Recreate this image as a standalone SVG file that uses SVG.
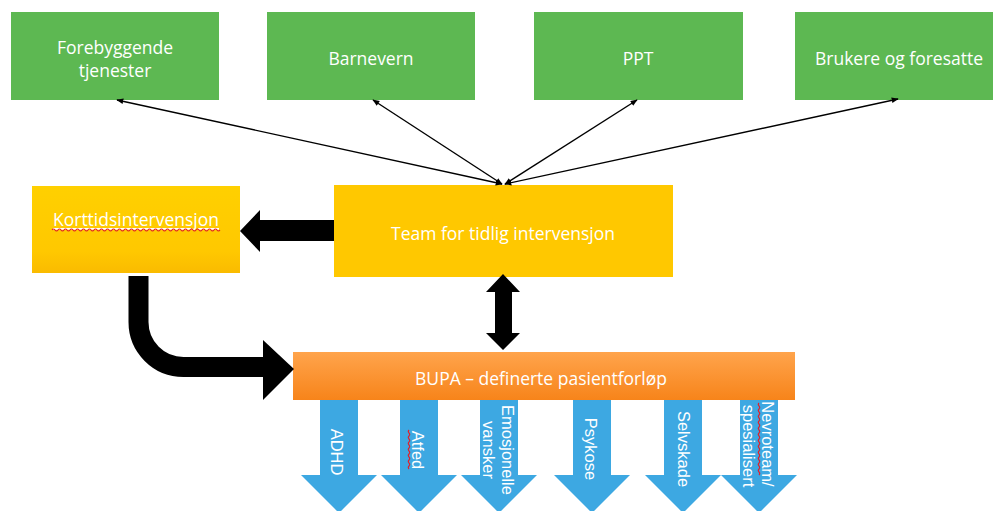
<svg xmlns="http://www.w3.org/2000/svg" width="995" height="511" viewBox="0 0 995 511">
<style>
.g{fill:#5DB852}
.lbl{font-family:"Open Sans","Liberation Sans",sans-serif;fill:#FFFFFF;text-anchor:middle;dominant-baseline:central}
.gl{font-size:17.5px}
.vt{font-family:"Liberation Sans",Arial,sans-serif;font-size:16.5px;fill:#FFFFFF;text-anchor:middle;dominant-baseline:central}
.thin{stroke:#000;stroke-width:1.4;fill:none;marker-start:url(#ah);marker-end:url(#ah)}
.blue{fill:#3DA8E2}
.wavy{fill:none;stroke:#E0202A;stroke-width:1.1}
</style>
<defs>
<marker id="ah" viewBox="0 0 10 10" refX="9" refY="5" markerWidth="7" markerHeight="7" orient="auto-start-reverse" markerUnits="userSpaceOnUse">
<path d="M0,1 L10,5 L0,9 z" fill="#000"/>
</marker>
<linearGradient id="ygrad" x1="0" y1="0" x2="0" y2="1">
<stop offset="0" stop-color="#FFD000"/>
<stop offset="0.75" stop-color="#FFC800"/>
<stop offset="1" stop-color="#FABB00"/>
</linearGradient>
<linearGradient id="ograd" x1="0" y1="0" x2="0" y2="1">
<stop offset="0" stop-color="#FFA44C"/>
<stop offset="1" stop-color="#F7841A"/>
</linearGradient>
</defs>
<rect width="995" height="511" fill="#FFFFFF"/>

<g id="forebyggende">
<rect class="g" x="11" y="12" width="208" height="88"/>
<text class="lbl gl" x="115" y="47">Forebyggende</text>
<text class="lbl gl" x="115" y="70">tjenester</text>
</g>
<g id="barnevern">
<rect class="g" x="267" y="12" width="208" height="88"/>
<text class="lbl gl" x="371" y="58">Barnevern</text>
</g>
<g id="ppt">
<rect class="g" x="534" y="12" width="209" height="88"/>
<text class="lbl gl" x="638" y="58">PPT</text>
</g>
<g id="brukere">
<rect class="g" x="795" y="12" width="198" height="88"/>
<text class="lbl gl" x="899" y="58">Brukere og foresatte</text>
</g>

<g id="korttids">
<rect x="32" y="186" width="208" height="87" fill="url(#ygrad)"/>
<text class="lbl gl" x="136" y="219" text-decoration="underline">Korttidsintervensjon</text>
<path class="wavy" d="M52,230 q1.5,-2 3,0 t3,0 t3,0 t3,0 t3,0 t3,0 t3,0 t3,0 t3,0 t3,0 t3,0 t3,0 t3,0 t3,0 t3,0 t3,0 t3,0 t3,0 t3,0 t3,0 t3,0 t3,0 t3,0 t3,0 t3,0 t3,0 t3,0 t3,0 t3,0 t3,0 t3,0 t3,0 t3,0 t3,0 t3,0 t3,0 t3,0 t3,0 t3,0 t3,0 t3,0 t3,0 t3,0 t3,0 t3,0 t3,0 t3,0 t3,0 t3,0 t3,0 t3,0 t3,0 t3,0 t3,0 t3,0 t3,0"/>
</g>

<g id="team">
<rect x="334" y="185" width="339" height="92" fill="#FFC800"/>
<text class="lbl gl" x="503" y="233">Team for tidlig intervensjon</text>
</g>

<g id="bupa">
<rect x="293" y="352" width="502" height="48" fill="url(#ograd)"/>
<text class="lbl gl" x="541" y="378">BUPA – definerte pasientforløp</text>
</g>

<g id="adhd">
<polygon class="blue" points="320,400 358,400 358,475 377,475 339,513 301,475 320,475"/>
<text class="vt" transform="translate(337,452) rotate(90)">ADHD</text>
</g>
<g id="atfed">
<polygon class="blue" points="400,400 438,400 438,475 457,475 419,513 381,475 400,475"/>
<text class="vt" transform="translate(418,450) rotate(90)">Atfed</text>
<path class="wavy" d="M409,430 q-1.5,1.5 0,3 t0,3 t0,3 t0,3 t0,3 t0,3 t0,3 t0,3 t0,3 t0,3 t0,3 t0,3 t0,3"/>
</g>
<g id="emosjonelle">
<polygon class="blue" points="480,400 518,400 518,475 537,475 499,513 461,475 480,475"/>
<text class="vt" transform="translate(508,450) rotate(90)">Emosjonelle</text>
<text class="vt" transform="translate(489,450) rotate(90)">vansker</text>
</g>
<g id="psykose">
<polygon class="blue" points="573,400 611,400 611,475 630,475 592,513 554,475 573,475"/>
<text class="vt" transform="translate(591,449) rotate(90)">Psykose</text>
</g>
<g id="selvskade">
<polygon class="blue" points="664,400 702,400 702,475 721,475 683,513 645,475 664,475"/>
<text class="vt" transform="translate(684,449) rotate(90)">Selvskade</text>
</g>
<g id="nevroteam">
<polygon class="blue" points="740,400 778,400 778,475 797,475 759,513 721,475 740,475"/>
<text class="vt" transform="translate(768,444) rotate(90)">Nevroteam/</text>
<text class="vt" transform="translate(749,446) rotate(90)">spesialisert</text>
<path class="wavy" d="M759,403 q-1.5,1.5 0,3 t0,3 t0,3 t0,3 t0,3 t0,3 t0,3 t0,3 t0,3 t0,3 t0,3 t0,3 t0,3 t0,3 t0,3 t0,3 t0,3 t0,3 t0,3 t0,3 t0,3 t0,3 t0,3 t0,3"/>
</g>

<g id="connectors">
<line class="thin" x1="502" y1="184" x2="117" y2="100"/>
<line class="thin" x1="502" y1="184" x2="373" y2="100"/>
<line class="thin" x1="505" y1="184" x2="637" y2="100"/>
<line class="thin" x1="505" y1="184" x2="898" y2="99"/>
<polygon fill="#000" points="334,220 260,220 260,210 240,231 260,252 260,241 334,241"/>
<path d="M138.5,276 V322 A45,45 0 0 0 183.5,367 H265" fill="none" stroke="#000" stroke-width="20"/>
<polygon fill="#000" points="263,340 294,369 263,400"/>
<polygon fill="#000" points="503,274 520,292 512,292 512,333 520,333 503,350 486,333 495,333 495,292 486,292"/>
</g>
</svg>
